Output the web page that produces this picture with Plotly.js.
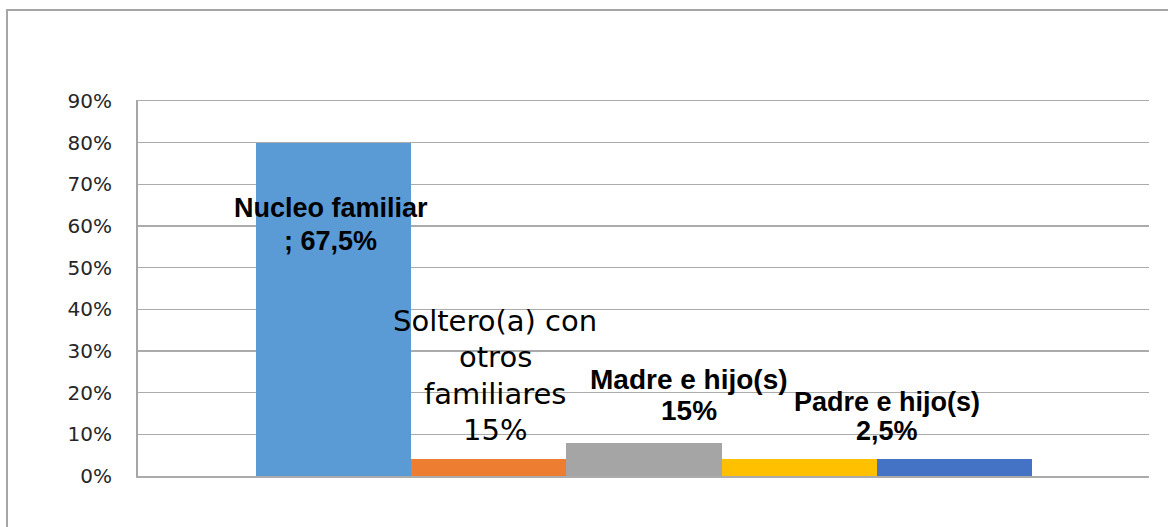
<!DOCTYPE html>
<html>
<head>
<meta charset="utf-8">
<script src="https://cdn.plot.ly/plotly-3.0.1.min.js"></script>
<style>
  html, body { margin: 0; padding: 0; background: #fff; overflow: hidden; }
  #chart { width: 1168px; height: 527px; position: absolute; left: 0; top: 0; }
  #frame { position: absolute; left: 6px; top: 9px; width: 1200px; height: 600px;
           border-top: 2px solid #a6a6a6; border-left: 2px solid #a6a6a6; pointer-events: none; }
</style>
</head>
<body>
<div id="chart"></div>
<div id="frame"></div>
<script>
// Data
const categories = ["Nucleo familiar", "Soltero(a) con otros familiares", "Madre e hijo(s)", "Padre e hijo(s)", "Otro"];
const values = [0.80, 0.04, 0.08, 0.04, 0.04];
const colors = ["#5b9bd5", "#ed7d31", "#a5a5a5", "#ffc000", "#4472c4"];
const labelLines = [
  ["Nucleo familiar", "; 67,5%"],
  ["Soltero(a) con", "otros", "familiares", "15%"],
  ["Madre e hijo(s)", "15%"],
  ["Padre e hijo(s)", "2,5%"]
];
const yTicks = [0, 0.1, 0.2, 0.3, 0.4, 0.5, 0.6, 0.7, 0.8, 0.9];
const yTickText = ["0%", "10%", "20%", "30%", "40%", "50%", "60%", "70%", "80%", "90%"];

const idx = categories.map((c, i) => i);

const trace = {
  type: "bar",
  x: idx,
  y: values,
  width: 1,
  marker: { color: colors, line: { width: 0 } },
  hoverinfo: "skip",
  showlegend: false
};

// label placement (style only)
const labelStyle = [
  { dx: -0.02, y: 0.643, dy: 0.078, size: 27, bold: true, family: "Liberation Sans, Arial, sans-serif" },
  { dx: 0.04, y: 0.372, dy: 0.087, size: 29, bold: false, family: "DejaVu Sans, sans-serif" },
  { dx: 0.29, y: 0.232, dy: 0.075, size: 28, bold: true, family: "Liberation Sans, Arial, sans-serif" },
  { dx: 0.565, y: 0.178, dy: 0.071, size: 27, bold: true, family: "Liberation Sans, Arial, sans-serif" }
];

const annotations = [];
labelLines.forEach((lines, i) => {
  const s = labelStyle[i];
  lines.forEach((t, j) => {
    annotations.push({
      x: idx[i] + s.dx, y: s.y - j * s.dy, xref: "x", yref: "y",
      text: s.bold ? "<b>" + t + "</b>" : t,
      showarrow: false, xanchor: "center", yanchor: "middle",
      font: { family: s.family, size: s.size, color: "#000" }
    });
  });
});

const layout = {
  width: 1168, height: 527,
  margin: { l: 138, r: 19, t: 101, b: 51, pad: 0 },
  paper_bgcolor: "#ffffff", plot_bgcolor: "#ffffff",
  bargap: 0,
  xaxis: {
    range: [-1.261, 5.255],
    showticklabels: false, showgrid: false, zeroline: false,
    showline: true, mirror: true, linecolor: "#ababab", linewidth: 1.5,
    ticks: "", fixedrange: true
  },
  yaxis: {
    range: [0, 0.9],
    tickvals: yTicks, ticktext: yTickText,
    showgrid: true, gridcolor: "#ababab", gridwidth: 1.5,
    zeroline: false,
    showline: true, linecolor: "#a6a6a6", linewidth: 2,
    ticks: "", ticklabelstandoff: 20,
    tickfont: { family: "DejaVu Sans, sans-serif", size: 20, color: "#262626" },
    fixedrange: true
  },
  annotations: annotations
};

Plotly.newPlot("chart", [trace], layout, { displayModeBar: false, staticPlot: true });
</script>
</body>
</html>
